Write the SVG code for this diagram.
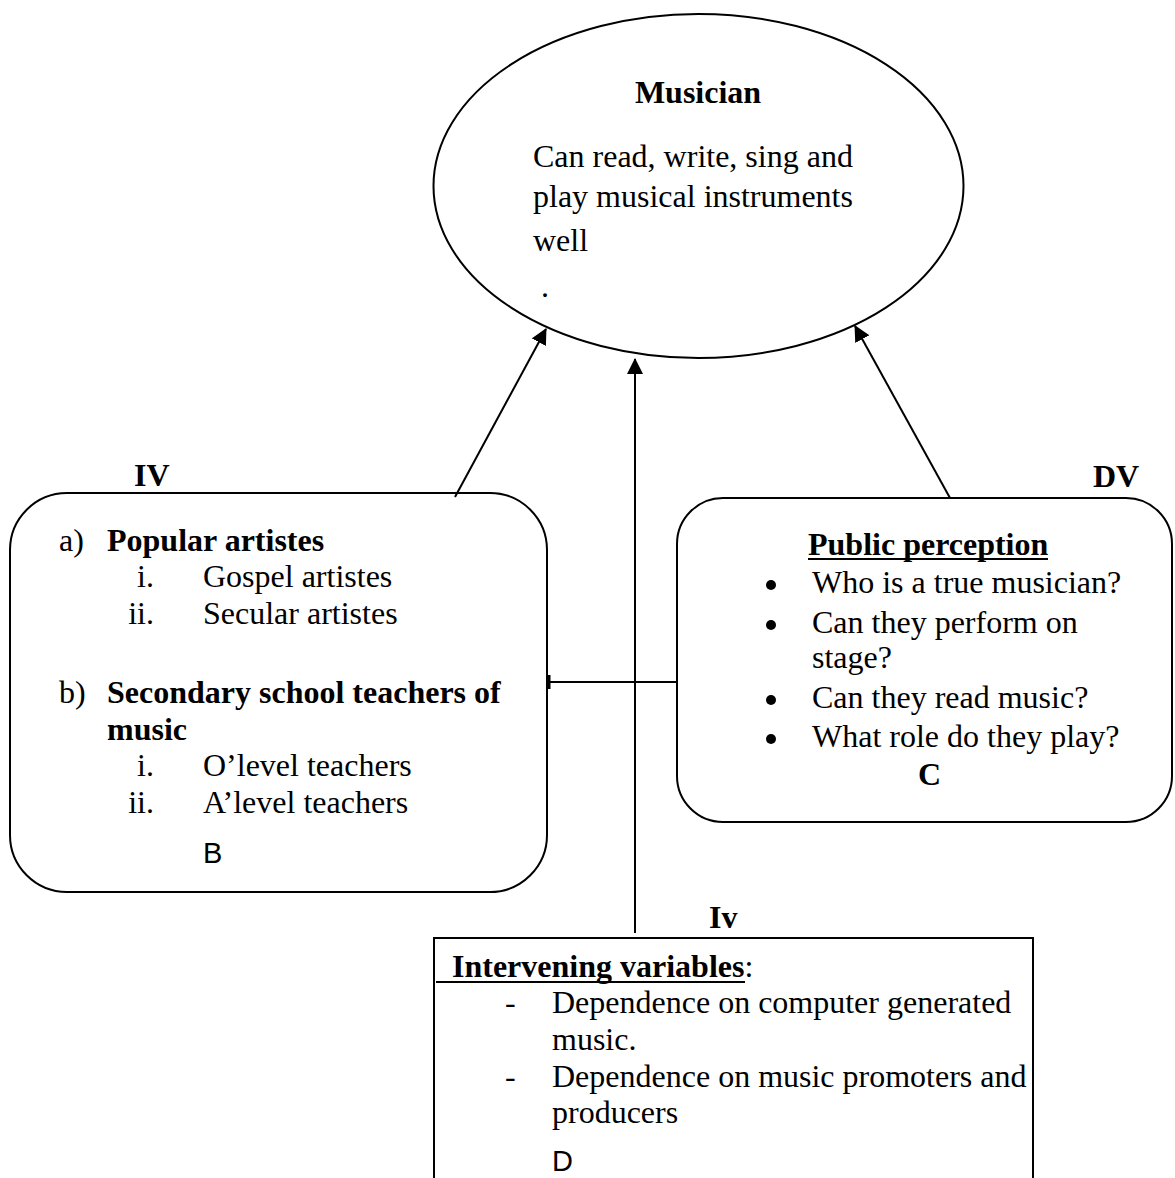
<svg xmlns="http://www.w3.org/2000/svg" width="1175" height="1178" viewBox="0 0 1175 1178">
<style>
.t{font-family:"Liberation Serif","Times New Roman",serif;font-size:32px;fill:#000}
.b{font-weight:bold}
.s{font-family:"Liberation Sans",Arial,sans-serif;font-size:29px;fill:#000}
.shape{fill:none;stroke:#000;stroke-width:2}
.ln{fill:none;stroke:#000;stroke-width:2}
</style>
<defs>
<marker id="ah" viewBox="0 0 16 16" refX="15" refY="8" markerWidth="16" markerHeight="16" markerUnits="userSpaceOnUse" orient="auto">
<path d="M0,0 L16,8 L0,16 Z" fill="#000"/>
</marker>
</defs>
<rect width="1175" height="1178" fill="#fff"/>
<g id="connectors">
<line class="ln" x1="455" y1="497" x2="546" y2="329" marker-end="url(#ah)"/>
<line class="ln" x1="950" y1="498" x2="855" y2="326" marker-end="url(#ah)"/>
<line class="ln" x1="635" y1="933" x2="635" y2="359" marker-end="url(#ah)"/>
<line class="ln" x1="548" y1="682" x2="677" y2="682"/>
<line x1="549" y1="675" x2="549" y2="689" stroke="#000" stroke-width="3"/>
</g>
<g id="musician">
<ellipse class="shape" cx="698.5" cy="186" rx="265" ry="172"/>
<text class="t b" x="698" y="103" text-anchor="middle">Musician</text>
<text class="t" x="533" y="167">Can read, write, sing and</text>
<text class="t" x="533" y="207">play musical instruments</text>
<text class="t" x="533" y="251">well</text>
<text class="t" x="541" y="297">.</text>
</g>
<g id="iv-box">
<text class="t b" x="134" y="486">IV</text>
<rect class="shape" x="10" y="493" width="537" height="399" rx="57" ry="57"/>
<text class="t" x="59" y="551">a)</text>
<text class="t b" x="107" y="551">Popular artistes</text>
<text class="t" x="154" y="587" text-anchor="end">i.</text>
<text class="t" x="203" y="587">Gospel artistes</text>
<text class="t" x="154" y="624" text-anchor="end">ii.</text>
<text class="t" x="203" y="624">Secular artistes</text>
<text class="t" x="59" y="703">b)</text>
<text class="t b" x="107" y="703">Secondary school teachers of</text>
<text class="t b" x="107" y="740">music</text>
<text class="t" x="154" y="776" text-anchor="end">i.</text>
<text class="t" x="203" y="776">O’level teachers</text>
<text class="t" x="154" y="813" text-anchor="end">ii.</text>
<text class="t" x="203" y="813">A’level teachers</text>
<text class="s" x="203" y="863">B</text>
</g>
<g id="dv-box">
<text class="t b" x="1093" y="487">DV</text>
<rect class="shape" x="677" y="498" width="495" height="324" rx="46" ry="46"/>
<text class="t b" x="808" y="555">Public perception</text>
<line x1="808" y1="559" x2="1048" y2="559" stroke="#000" stroke-width="2"/>
<circle cx="771" cy="585" r="5"/>
<text class="t" x="812" y="593">Who is a true musician?</text>
<circle cx="771" cy="625" r="5"/>
<text class="t" x="812" y="633">Can they perform on</text>
<text class="t" x="812" y="668">stage?</text>
<circle cx="771" cy="700" r="5"/>
<text class="t" x="812" y="708">Can they read music?</text>
<circle cx="771" cy="739" r="5"/>
<text class="t" x="812" y="747">What role do they play?</text>
<text class="t b" x="918" y="785">C</text>
</g>
<g id="intervening-box">
<text class="t b" x="709" y="928">Iv</text>
<path class="shape" d="M434,1182 V938 H1033 V1182"/>
<text class="t" x="452" y="977"><tspan class="b">Intervening variables</tspan>:</text>
<line x1="436" y1="982" x2="745" y2="982" stroke="#000" stroke-width="2"/>
<text class="t" x="505" y="1013">-</text>
<text class="t" x="552" y="1013">Dependence on computer generated</text>
<text class="t" x="552" y="1050">music.</text>
<text class="t" x="505" y="1087">-</text>
<text class="t" x="552" y="1087">Dependence on music promoters and</text>
<text class="t" x="552" y="1123">producers</text>
<text class="s" x="552" y="1171">D</text>
</g>
</svg>
